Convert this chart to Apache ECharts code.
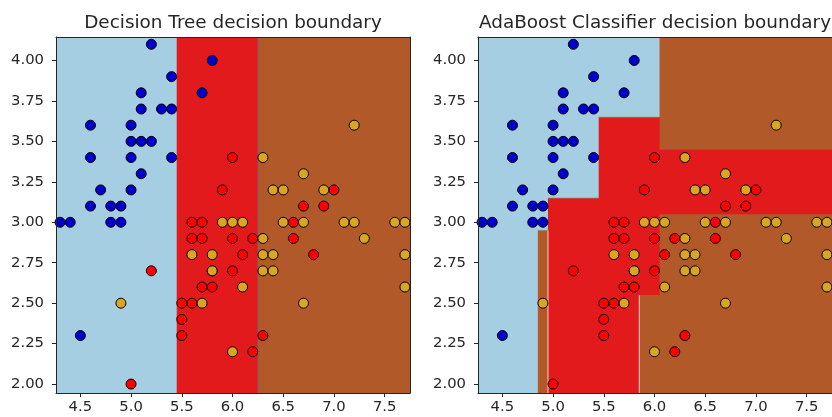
<!DOCTYPE html>
<html>
<head>
<meta charset="utf-8">
<script src="https://cdn.jsdelivr.net/npm/echarts@6/dist/echarts.min.js"></script>
<style>
html,body{margin:0;padding:0;background:#fff;}
#chart{width:832px;height:417px;}
</style>
</head>
<body>
<div id="chart"></div>
<script>
// ---------------- data ----------------
const titles = ['Decision Tree decision boundary', 'AdaBoost Classifier decision boundary'];
const xRange = [4.26, 7.75];
const yRange = [1.945, 4.145];
const xTicks = [4.5, 5.0, 5.5, 6.0, 6.5, 7.0, 7.5];
const yTicks = [2.00, 2.25, 2.50, 2.75, 3.00, 3.25, 3.50, 3.75, 4.00];

// scatter points (sepal length, sepal width) per class
const class0 = [[5.2,4.1],[5.8,4.0],[5.4,3.9],[5.7,3.8],[5.1,3.8],[5.1,3.7],[5.3,3.7],[5.4,3.7],
  [4.6,3.6],[5.0,3.6],[5.0,3.5],[5.1,3.5],[5.2,3.5],[4.6,3.4],[5.0,3.4],[5.4,3.4],[5.1,3.3],
  [4.7,3.2],[5.0,3.2],[4.6,3.1],[4.8,3.1],[4.9,3.1],[4.3,3.0],[4.4,3.0],[4.8,3.0],[4.9,3.0],[4.5,2.3]];
const class1 = [[6.0,3.4],[5.9,3.2],[7.0,3.2],[6.7,3.1],[6.9,3.1],[5.6,3.0],[5.7,3.0],[6.6,3.0],
  [5.6,2.9],[5.7,2.9],[6.0,2.9],[6.2,2.9],[6.6,2.9],[6.1,2.8],[6.8,2.8],[5.2,2.7],[5.8,2.7],[6.0,2.7],
  [5.7,2.6],[5.8,2.6],[5.5,2.5],[5.6,2.5],[5.5,2.4],[5.5,2.3],[6.3,2.3],[6.2,2.2],[5.0,2.0]];
const class2 = [[6.3,3.4],[7.2,3.6],[6.7,3.3],[6.4,3.2],[6.5,3.2],[6.9,3.2],[5.9,3.0],[6.0,3.0],
  [6.1,3.0],[6.5,3.0],[6.7,3.0],[7.1,3.0],[7.2,3.0],[7.6,3.0],[7.7,3.0],[6.3,2.9],[7.3,2.9],
  [5.6,2.8],[5.8,2.8],[6.3,2.8],[6.4,2.8],[7.7,2.8],[5.8,2.7],[6.3,2.7],[6.4,2.7],[6.1,2.6],[7.7,2.6],
  [4.9,2.5],[5.7,2.5],[6.7,2.5],[6.0,2.2]];

// decision regions, painted in order: [x0, x1, y0, y1, class]
const lo = -10, hi = 10;
const treeRegions = [
  [lo, hi, lo, hi, 0],
  [5.45, hi, lo, hi, 1],
  [6.25, hi, lo, hi, 2]
];
const adaRegions = [
  [lo, hi, lo, hi, 0],
  [4.95, hi, lo, 3.15, 1],
  [5.45, hi, lo, 3.65, 1],
  [6.05, hi, 3.45, hi, 2],
  [4.85, 4.95, lo, 2.95, 2],
  [6.05, hi, lo, 3.05, 2],
  [5.85, hi, lo, 2.55, 2]
];
// thin contour edges: [x0, y0, x1, y1, kind]
const treeEdges = [
  [6.25, lo, 6.25, hi, 0]
];
const adaEdges = [
  [4.95, lo, 4.95, 2.95, 1],
  [5.85, lo, 5.85, 2.55, 1],
  [4.95, 3.15, 5.45, 3.15, 2],
  [4.85, 2.95, 4.95, 2.95, 2],
  [5.45, 3.65, 6.05, 3.65, 2],
  [6.05, 3.45, hi, 3.45, 0]
];

// ---------------- styles ----------------
const regionColors = ['#a6cee3', '#e31a1c', '#b15928'];
const edgeColors = ['rgba(130,80,150,0.75)', 'rgba(255,235,235,0.85)', 'rgba(120,170,90,0.7)'];
const pointColors = ['#0000cd', '#ff0000', '#daa520'];
const FONT = 'DejaVu Sans';
const TXT = '#262626';
const LINE = '#262626';

const chart = echarts.init(document.getElementById('chart'), null, {renderer: 'canvas'});

function clampX(v) { return Math.min(Math.max(v, xRange[0]), xRange[1]); }
function clampY(v) { return Math.min(Math.max(v, yRange[0]), yRange[1]); }

function renderRect(params, api) {
  const p0 = api.coord([clampX(api.value(0)), clampY(api.value(3))]);
  const p1 = api.coord([clampX(api.value(1)), clampY(api.value(2))]);
  return {
    type: 'rect',
    shape: {x: p0[0], y: p0[1], width: p1[0] - p0[0], height: p1[1] - p0[1]},
    style: {fill: regionColors[api.value(4)]}
  };
}
function renderEdge(params, api) {
  const p0 = api.coord([clampX(api.value(0)), clampY(api.value(1))]);
  const p1 = api.coord([clampX(api.value(2)), clampY(api.value(3))]);
  return {
    type: 'line',
    shape: {x1: p0[0], y1: p0[1], x2: p1[0], y2: p1[1]},
    style: {stroke: edgeColors[api.value(4)], lineWidth: 1}
  };
}

const grids = [
  {left: 56, top: 37, width: 354, height: 356},
  {left: 478, top: 37, width: 354, height: 356}
];

const xAxes = [], yAxes = [], series = [], titleOpts = [];
grids.forEach((g, i) => {
  titleOpts.push({
    text: titles[i],
    left: g.left + g.width / 2 - 5, top: 9, textAlign: 'center',
    textStyle: {fontFamily: FONT, fontSize: 18.4, fontWeight: 'normal', color: TXT}
  });
  xAxes.push({
    type: 'value', gridIndex: i, position: 'bottom', min: xRange[0], max: xRange[1], z: 10,
    axisLine: {show: true, onZero: false, lineStyle: {color: LINE, width: 1}},
    axisTick: {show: true, length: 4, customValues: xTicks, lineStyle: {color: LINE}},
    axisLabel: {show: true, customValues: xTicks, margin: 7, fontFamily: FONT, fontSize: 14.8, color: TXT,
      formatter: v => v.toFixed(1)},
    splitLine: {show: false}
  });
  xAxes.push({
    type: 'value', gridIndex: i, position: 'top', min: xRange[0], max: xRange[1], z: 10,
    axisLine: {show: true, onZero: false, lineStyle: {color: LINE, width: 1}},
    axisTick: {show: false}, axisLabel: {show: false}, splitLine: {show: false}
  });
  yAxes.push({
    type: 'value', gridIndex: i, position: 'left', min: yRange[0], max: yRange[1], z: 10,
    axisLine: {show: true, onZero: false, lineStyle: {color: LINE, width: 1}},
    axisTick: {show: true, length: 4, customValues: yTicks, lineStyle: {color: LINE}},
    axisLabel: {show: true, customValues: yTicks, margin: 12, fontFamily: FONT, fontSize: 14.8, color: TXT,
      formatter: v => v.toFixed(2)},
    splitLine: {show: false}
  });
  yAxes.push({
    type: 'value', gridIndex: i, position: 'right', min: yRange[0], max: yRange[1], z: 10,
    axisLine: {show: true, onZero: false, lineStyle: {color: LINE, width: 1}},
    axisTick: {show: false}, axisLabel: {show: false}, splitLine: {show: false}
  });
  series.push({
    type: 'custom', xAxisIndex: i * 2, yAxisIndex: i * 2, z: 1,
    renderItem: renderRect, clip: true, silent: true,
    encode: {x: [0, 1], y: [2, 3]},
    data: i === 0 ? treeRegions : adaRegions
  });
  series.push({
    type: 'custom', xAxisIndex: i * 2, yAxisIndex: i * 2, z: 2,
    renderItem: renderEdge, clip: true, silent: true,
    encode: {x: [0, 2], y: [1, 3]},
    data: i === 0 ? treeEdges : adaEdges
  });
  [class0, class1, class2].forEach((pts, c) => {
    series.push({
      type: 'scatter', xAxisIndex: i * 2, yAxisIndex: i * 2, z: 3,
      symbol: 'circle', symbolSize: 10, clip: false,
      itemStyle: {color: pointColors[c], borderColor: '#000', borderWidth: 1, opacity: 1},
      data: pts, animation: false
    });
  });
});

chart.setOption({
  animation: false,
  backgroundColor: '#fff',
  title: titleOpts,
  grid: grids,
  xAxis: xAxes,
  yAxis: yAxes,
  series: series
});
</script>
</body>
</html>
